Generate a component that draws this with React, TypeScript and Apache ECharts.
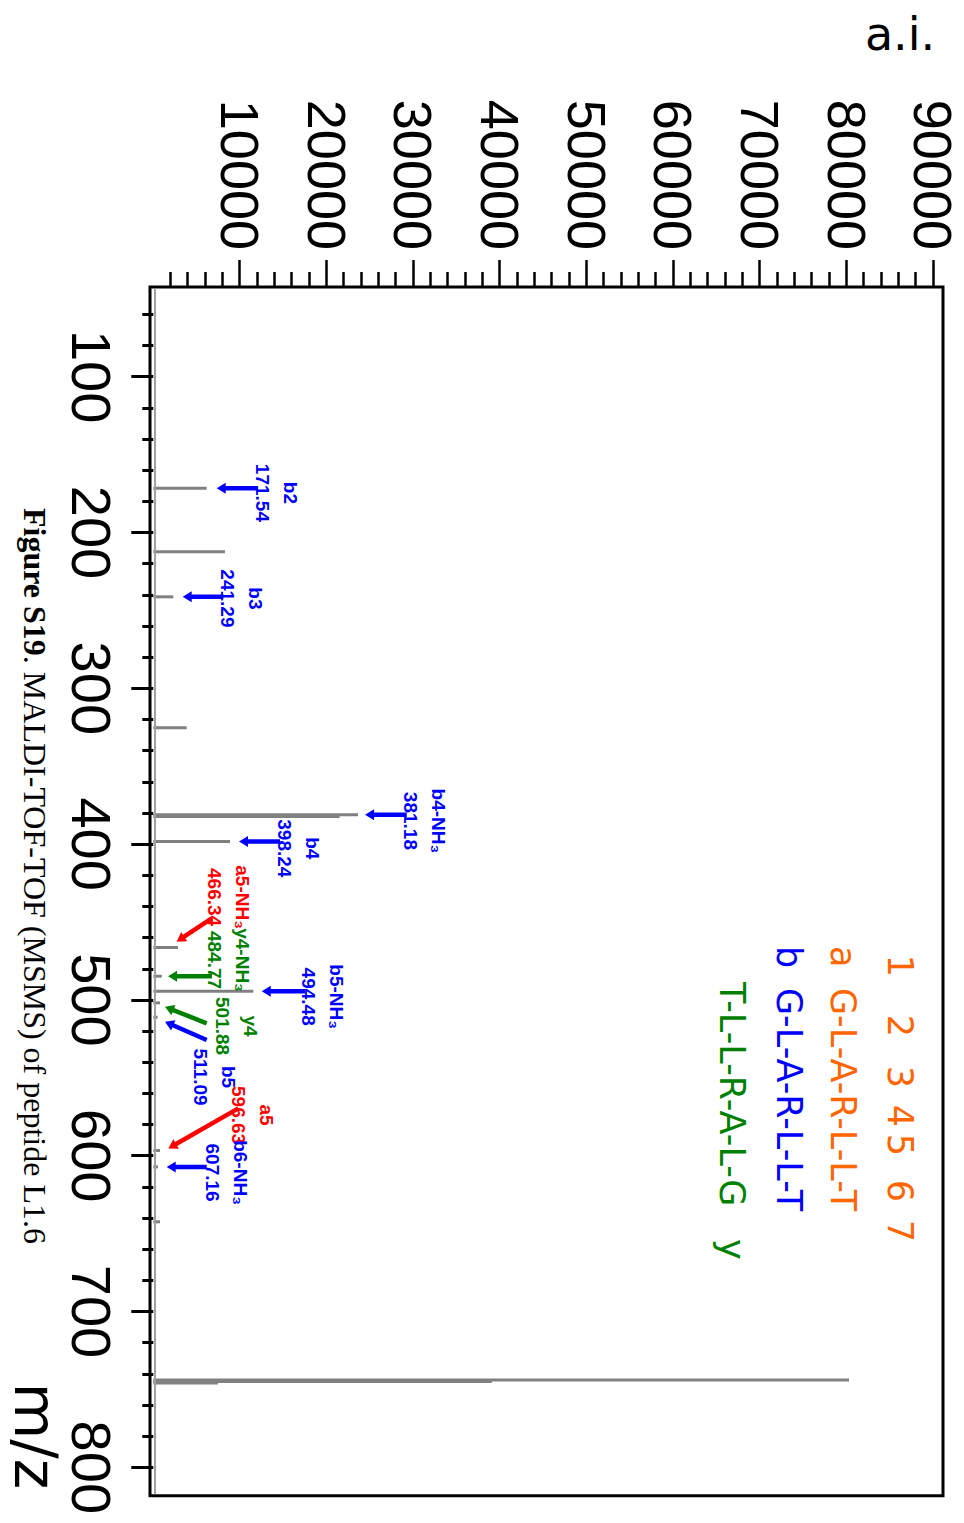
import React, { useEffect, useRef } from "react";
import * as echarts from "echarts";

// Plot frame limits (m/z along the long side, absolute intensity across)
const mzRange = [42.43, 818.2];
const aiRange = [-381, 91115];

// Axis ticks
const mzMajorTicks = [100, 200, 300, 400, 500, 600, 700, 800];
const mzMinorTicks = [
  60, 80, 120, 140, 160, 180, 220, 240, 260, 280, 320, 340, 360, 380, 420, 440,
  460, 480, 520, 540, 560, 580, 620, 640, 660, 680, 720, 740, 760, 780,
];
const aiMajorTicks = [10000, 20000, 30000, 40000, 50000, 60000, 70000, 80000, 90000];
const aiMinorTicks = [
  2000, 4000, 6000, 8000, 12000, 14000, 16000, 18000, 22000, 24000, 26000, 28000,
  32000, 34000, 36000, 38000, 42000, 44000, 46000, 48000, 52000, 54000, 56000,
  58000, 62000, 64000, 66000, 68000, 72000, 74000, 76000, 78000, 82000, 84000,
  86000, 88000,
];

// MS/MS fragment spectrum: peak positions and heights
const peakMz = [
  171.54, 212.3, 241.29, 325.3, 381.18, 382.2, 398.24, 466.34, 484.77, 494.48,
  501.88, 511.09, 596.63, 607.16, 642.4, 743.9, 744.9, 745.9,
];
const peakIntensity = [
  6160, 8270, 2300, 3850, 23620, 21500, 8850, 2850, 970, 11540, 770, 500, 770,
  540, 770, 80270, 39050, 7460,
];
const noiseLevel = 200;

// Assigned fragment ions
const ionNames = ["b2", "b3", "b4-NH₃", "b4", "a5-NH₃", "y4-NH₃", "b5-NH₃", "y4", "b5", "a5", "b6-NH₃"];
const ionTypes = ["b", "b", "b", "b", "a", "y", "b", "y", "b", "a", "b"];
const ionMz = [171.54, 241.29, 381.18, 398.24, 466.34, 484.77, 494.48, 501.88, 511.09, 596.63, 607.16];

// Arrow geometry in data units [m/z, intensity]: head, tail and label anchor
const arrowTip = [
  [171.54, 7315], [241.29, 3390], [381.18, 24430], [398.24, 9890], [462.6, 2700],
  [484.77, 1700], [494.48, 12510], [504.4, 1350], [514.0, 1350], [595.3, 1730],
  [607.16, 1546],
];
const arrowTail = [
  [171.54, 12080], [241.29, 8080], [381.18, 29240], [398.24, 14620], [447.6, 6740],
  [484.77, 6770], [494.48, 17500], [515.0, 6160], [525.7, 6160], [569.6, 9810],
  [607.16, 6160],
];
const labelAnchor = [
  [174.6, 12600], [242.3, 8560], [385.1, 29620], [402.7, 15140], [434.0, 7060],
  [474.4, 7060], [497.9, 17910], [516.8, 7980], [549.5, 5450], [573.9, 9830],
  [610.8, 6830],
];

const ionColors: Record<string, string> = { a: "#ff0000", b: "#0000ff", y: "#008000" };

// Sequence key
const residueNumbers = ["1", "2", "3", "4", "5", "6", "7"];
const aSequence = "G-L-A-R-L-L-T";
const bSequence = "G-L-A-R-L-L-T";
const ySequence = "T-L-L-R-A-L-G";

const ORANGE = "#ff6600";
const AXIS_FONT = "Liberation Sans";
const KEY_FONT = "DejaVu Sans";

export default function App() {
  const ref = useRef<HTMLDivElement>(null);

  useEffect(() => {
    if (!ref.current) return;
    const chart = echarts.init(ref.current, null, { renderer: "svg" });

    const tickStyle = { color: "#000", width: 3 };
    const labelFontSize = 19;

    const keyText = (text: string, x: number, y: number, fill: string, align = "left") => ({
      type: "text",
      x,
      y,
      style: {
        text,
        fill,
        fontSize: 35,
        fontFamily: KEY_FONT,
        align,
        textAlign: align,
        verticalAlign: "middle",
        textVerticalAlign: "middle",
      },
    });

    const numberCenters = [966, 1026, 1077, 1116, 1145, 1191, 1231];

    chart.setOption({
      animation: false,
      backgroundColor: "#fff",
      grid: {
        left: 287,
        right: 27.3,
        top: 21,
        bottom: 150,
        show: true,
        borderColor: "#000",
        borderWidth: 3,
        backgroundColor: "transparent",
      },
      xAxis: [
        {
          type: "value",
          min: mzRange[0],
          max: mzRange[1],
          position: "bottom",
          axisLine: { show: false },
          splitLine: { show: false },
          axisTick: { show: true, length: 22, lineStyle: tickStyle, customValues: mzMajorTicks },
          axisLabel: {
            customValues: mzMajorTicks,
            margin: 31,
            fontSize: 56,
            fontFamily: AXIS_FONT,
            color: "#000",
            formatter: (v: number) => String(v),
          },
        },
        {
          type: "value",
          min: mzRange[0],
          max: mzRange[1],
          position: "bottom",
          axisLine: { show: false },
          splitLine: { show: false },
          axisTick: { show: true, length: 11, lineStyle: tickStyle, customValues: mzMinorTicks },
          axisLabel: { show: false },
        },
      ],
      yAxis: [
        {
          type: "value",
          min: aiRange[0],
          max: aiRange[1],
          position: "left",
          axisLine: { show: false },
          splitLine: { show: false },
          axisTick: { show: true, length: 27, lineStyle: { color: "#000", width: 2.5 }, customValues: aiMajorTicks },
          axisLabel: {
            customValues: aiMajorTicks,
            margin: 37,
            fontSize: 54,
            lineHeight: 48,
            fontFamily: AXIS_FONT,
            color: "#000",
            formatter: (v: number) => String(v),
          },
        },
        {
          type: "value",
          min: aiRange[0],
          max: aiRange[1],
          position: "left",
          axisLine: { show: false },
          splitLine: { show: false },
          axisTick: { show: true, length: 15, lineStyle: { color: "#000", width: 2.5 }, customValues: aiMinorTicks },
          axisLabel: { show: false },
        },
      ],
      series: [
        {
          name: "baseline",
          type: "line",
          xAxisIndex: 0,
          yAxisIndex: 0,
          symbol: "none",
          silent: true,
          lineStyle: { color: "#a0a0a0", width: 2 },
          data: [
            [mzRange[0] + 1, noiseLevel],
            [mzRange[1] - 1, noiseLevel],
          ],
        },
        {
          name: "peaks",
          type: "custom",
          xAxisIndex: 0,
          yAxisIndex: 0,
          silent: true,
          encode: { x: 0, y: 1 },
          data: peakMz.map((m, i) => [m, peakIntensity[i]]),
          renderItem: (params: any, api: any) => {
            const m = api.value(0);
            const h = api.value(1);
            const p0 = api.coord([m, 0]);
            const p1 = api.coord([m, h]);
            return {
              type: "line",
              shape: { x1: p0[0], y1: p0[1], x2: p1[0], y2: p1[1] },
              style: { stroke: "#808080", lineWidth: 3 },
            };
          },
        },
        {
          name: "assignments",
          type: "custom",
          xAxisIndex: 0,
          yAxisIndex: 0,
          silent: true,
          encode: { x: 0, y: 1 },
          data: arrowTip,
          renderItem: (params: any, api: any) => {
            const i = params.dataIndex;
            const tip = api.coord(arrowTip[i]);
            const tail = api.coord(arrowTail[i]);
            const lab = api.coord(labelAnchor[i]);
            const color = ionColors[ionTypes[i]];
            const dx = tip[0] - tail[0];
            const dy = tip[1] - tail[1];
            const len = Math.hypot(dx, dy) || 1;
            const ux = dx / len;
            const uy = dy / len;
            const headLen = 9;
            const headHalf = 5.5;
            const bx = tip[0] - ux * headLen;
            const by = tip[1] - uy * headLen;
            const px = -uy;
            const py = ux;
            const textStyle = {
              fill: color,
              fontSize: labelFontSize,
              fontWeight: "bold",
              fontFamily: AXIS_FONT,
              align: "center",
              verticalAlign: "middle",
            };
            return {
              type: "group",
              children: [
                { type: "text", x: lab[0], y: lab[1], style: { ...textStyle, text: ionMz[i].toFixed(2) } },
                { type: "text", x: lab[0], y: lab[1] - 28, style: { ...textStyle, text: ionNames[i] } },
                {
                  type: "line",
                  shape: { x1: tail[0], y1: tail[1], x2: bx + ux * 1.5, y2: by + uy * 1.5 },
                  style: { stroke: color, lineWidth: 4.5 },
                },
                {
                  type: "polygon",
                  shape: {
                    points: [
                      [tip[0], tip[1]],
                      [bx + px * headHalf, by + py * headHalf],
                      [bx - px * headHalf, by - py * headHalf],
                    ],
                  },
                  style: { fill: color },
                },
              ],
            };
          },
        },
      ],
      graphic: [
        {
          type: "text",
          x: 34,
          y: 64,
          rotation: Math.PI / 2,
          style: {
            text: "a.i.",
            fill: "#000",
            fontSize: 46,
            fontFamily: KEY_FONT,
            align: "center",
            textAlign: "center",
            verticalAlign: "middle",
            textVerticalAlign: "middle",
          },
        },
        {
          type: "text",
          x: 1436,
          y: 929,
          style: {
            text: "m/z",
            fill: "#000",
            fontSize: 58,
            fontFamily: KEY_FONT,
            align: "center",
            textAlign: "center",
            verticalAlign: "middle",
            textVerticalAlign: "middle",
          },
        },
        {
          type: "text",
          x: 508,
          y: 929,
          style: {
            text: "{b|Figure S19}{r|. MALDI-TOF-TOF (MSMS) of peptide L1.6}",
            fill: "#000",
            fontSize: 32,
            fontFamily: "Liberation Serif",
            align: "left",
            textAlign: "left",
            verticalAlign: "middle",
            textVerticalAlign: "middle",
            rich: {
              b: { fontSize: 32, fontFamily: "Liberation Serif", fontWeight: "bold", fill: "#000" },
              r: { fontSize: 32, fontFamily: "Liberation Serif", fill: "#000" },
            },
          },
        },
        ...residueNumbers.map((n, i) => keyText(n, numberCenters[i], 64, ORANGE, "center")),
        keyText("a", 946, 121, ORANGE),
        keyText(aSequence, 988, 121, ORANGE),
        keyText("b", 946, 175.5, "#0000ff"),
        keyText(bSequence, 988, 175.5, "#0000ff"),
        keyText(ySequence, 982, 232.5, "#008000"),
        keyText("y", 1239, 232.5, "#008000"),
      ],
    });

    return () => chart.dispose();
  }, []);

  return (
    <div
      style={{
        position: "absolute",
        left: 0,
        top: 0,
        width: 964,
        height: 1523,
        overflow: "hidden",
        background: "#fff",
      }}
    >
      <div
        ref={ref}
        style={{
          position: "absolute",
          left: 0,
          top: 0,
          width: 1523,
          height: 964,
          transformOrigin: "0 0",
          transform: "translate(964px, 0) rotate(90deg)",
        }}
      />
    </div>
  );
}
